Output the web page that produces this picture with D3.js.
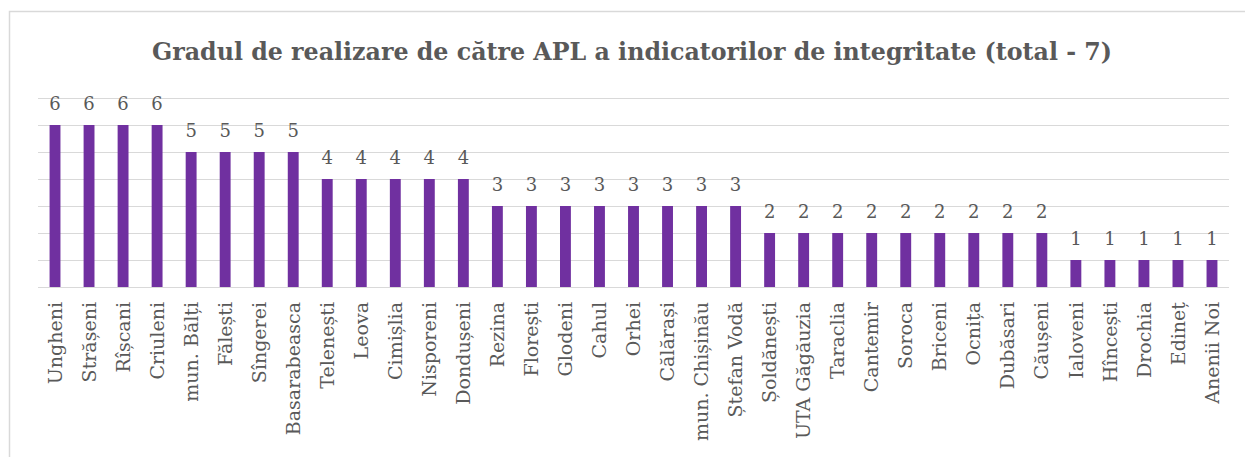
<!DOCTYPE html>
<html>
<head>
<meta charset="utf-8">
<script src="https://cdn.jsdelivr.net/npm/d3@7"></script>
<style>
  body { margin: 0; background: #fff; }
  text { font-family: "DejaVu Serif", "Liberation Serif", serif; fill: #595959; }
</style>
</head>
<body>
<div id="chart"></div>
<script>
// categories and values
var districts = ["Ungheni", "Strășeni", "Rîșcani", "Criuleni", "mun. Bălți", "Fălești", "Sîngerei",
    "Basarabeasca", "Telenești", "Leova", "Cimișlia", "Nisporeni", "Dondușeni", "Rezina", "Florești",
    "Glodeni", "Cahul", "Orhei", "Călărași", "mun. Chișinău", "Ștefan Vodă", "Șoldănești",
    "UTA Găgăuzia", "Taraclia", "Cantemir", "Soroca", "Briceni", "Ocnița", "Dubăsari", "Căușeni",
    "Ialoveni", "Hîncești", "Drochia", "Edineț", "Anenii Noi"];
var indicators = [6, 6, 6, 6, 5, 5, 5, 5, 4, 4, 4, 4, 4, 3, 3, 3, 3, 3, 3, 3, 3, 2, 2, 2, 2, 2, 2, 2, 2, 2,
    1, 1, 1, 1, 1];
var yTicks = [0, 1, 2, 3, 4, 5, 6, 7];
var title = "Gradul de realizare de către APL a indicatorilor de integritate (total - 7)";

var W = 1245, H = 457;
var plotLeft = 38, plotRight = 1229, plotTop = 98, plotBottom = 287;

var svg = d3.select("#chart")
    .append("svg")
    .attr("width", W)
    .attr("height", H);

// chart frame (runs past the picture on the right and bottom)
svg.append("rect")
    .attr("x", 9.5)
    .attr("y", 11.5)
    .attr("width", 1300)
    .attr("height", 500)
    .attr("fill", "#fff")
    .attr("stroke", "#d9d9d9")
    .attr("stroke-width", 1.5);

var x = d3.scaleBand()
    .domain(districts)
    .range([plotLeft, plotRight])
    .paddingInner(0.68)
    .paddingOuter(0.34);

var y = d3.scaleLinear()
    .domain([0, 7])
    .range([plotBottom, plotTop]);

// gridlines
svg.append("g")
    .selectAll("line")
    .data(yTicks)
    .enter()
    .append("line")
    .attr("x1", plotLeft)
    .attr("x2", plotRight)
    .attr("y1", function (d) { return Math.round(y(d)) + 0.5; })
    .attr("y2", function (d) { return Math.round(y(d)) + 0.5; })
    .attr("stroke", "#d9d9d9")
    .attr("stroke-width", 1);

// bars
svg.append("g")
    .selectAll("rect")
    .data(indicators)
    .enter()
    .append("rect")
    .attr("x", function (d, i) { return x(districts[i]); })
    .attr("y", function (d) { return y(d); })
    .attr("width", x.bandwidth())
    .attr("height", function (d) { return y(0) - y(d); })
    .attr("fill", "#7030a0");

// value labels
svg.append("g")
    .selectAll("text")
    .data(indicators)
    .enter()
    .append("text")
    .attr("x", function (d, i) { return x(districts[i]) + x.bandwidth() / 2; })
    .attr("y", function (d) { return y(d) - 15; })
    .attr("text-anchor", "middle")
    .attr("font-size", "18px")
    .text(function (d) { return d; });

// category axis, labels rotated
var xAxis = svg.append("g")
    .attr("transform", "translate(0," + plotBottom + ")")
    .call(d3.axisBottom(x).tickSize(0).tickPadding(0));
xAxis.select(".domain").remove();
xAxis.selectAll("text")
    .attr("transform", "rotate(-90)")
    .attr("x", -15)
    .attr("y", 0)
    .attr("dy", "0.35em")
    .attr("text-anchor", "end")
    .style("font-family", "'DejaVu Serif', serif")
    .style("font-size", "19px")
    .style("fill", "#595959");

// title, fitted to the width seen in the picture
var t = svg.append("text")
    .attr("x", 632)
    .attr("y", 60)
    .attr("text-anchor", "middle")
    .attr("font-weight", "bold")
    .attr("font-size", "20px")
    .text(title);
var len = t.node().getComputedTextLength();
t.attr("font-size", (20 * 960 / len).toFixed(2) + "px");
</script>
</body>
</html>
